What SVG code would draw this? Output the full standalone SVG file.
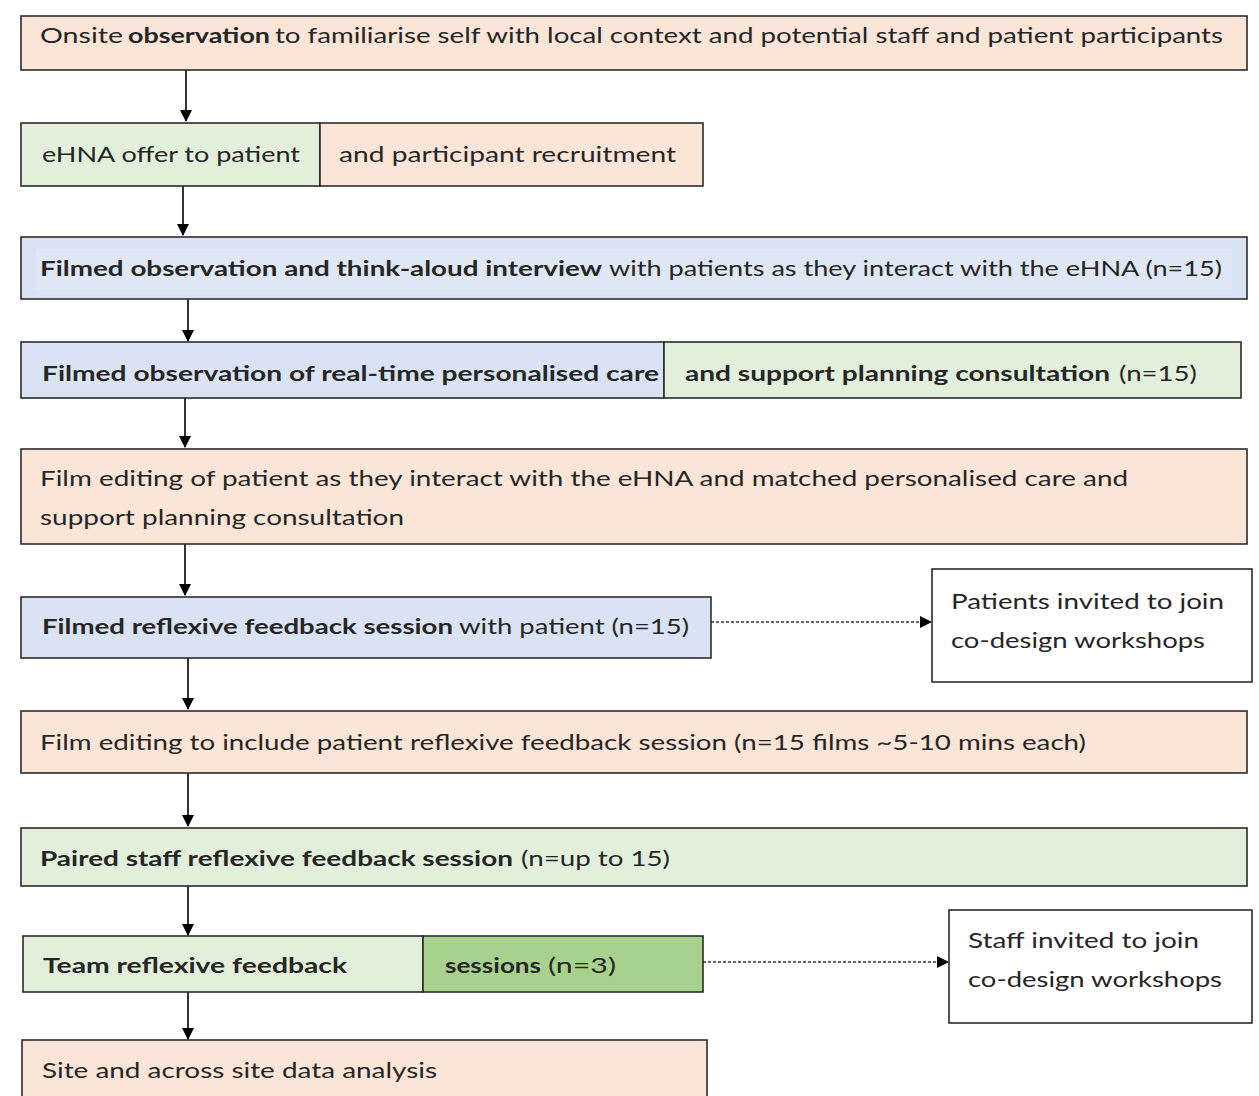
<svg xmlns="http://www.w3.org/2000/svg" width="1259" height="1096" viewBox="0 0 1259 1096">
<style>
.box{stroke:#2b2b2b;stroke-width:1.6}
.pe{fill:#fbe5d6}.gr{fill:#e2efda}.bl{fill:#dae3f3}.dg{fill:#a9d18e}.wh{fill:#ffffff}
text{font-family:Lato,"Open Sans",sans-serif;font-size:21.5px;fill:#262626}
.b{font-weight:bold}
.ln{stroke:#000;stroke-width:1.6;fill:none}
.dt{stroke:#333;stroke-width:1.5;stroke-dasharray:3 2;fill:none}
</style>
<defs>
<marker id="ah" markerWidth="12" markerHeight="12" refX="11" refY="6" orient="auto" markerUnits="userSpaceOnUse">
<path d="M0,0 L12,6 L0,12 Z" fill="#000"/>
</marker>
</defs>
<rect width="1259" height="1096" fill="#fff"/>
<g id="connectors">
<line class="ln" x1="186" y1="70" x2="186" y2="121" marker-end="url(#ah)"/>
<line class="ln" x1="183" y1="186" x2="183" y2="235" marker-end="url(#ah)"/>
<line class="ln" x1="188" y1="299" x2="188" y2="341" marker-end="url(#ah)"/>
<line class="ln" x1="185" y1="398" x2="185" y2="447" marker-end="url(#ah)"/>
<line class="ln" x1="185" y1="544" x2="185" y2="595" marker-end="url(#ah)"/>
<line class="ln" x1="188" y1="658" x2="188" y2="709" marker-end="url(#ah)"/>
<line class="ln" x1="188" y1="773" x2="188" y2="826" marker-end="url(#ah)"/>
<line class="ln" x1="188" y1="886" x2="188" y2="935" marker-end="url(#ah)"/>
<line class="ln" x1="188" y1="992" x2="188" y2="1039" marker-end="url(#ah)"/>
<line class="dt" x1="711" y1="622" x2="931" y2="622" marker-end="url(#ah)"/>
<line class="dt" x1="703" y1="962" x2="948" y2="962" marker-end="url(#ah)"/>
</g>
<g id="n1">
<rect class="box pe" x="21" y="16" width="1226" height="54"/>
<text x="40" y="43" textLength="83" lengthAdjust="spacingAndGlyphs">Onsite</text>
<text class="b" x="128" y="43" textLength="142" lengthAdjust="spacingAndGlyphs">observation</text>
<text x="275" y="43" textLength="948" lengthAdjust="spacingAndGlyphs">to familiarise self with local context and potential staff and patient participants</text>
</g>
<g id="n2">
<rect class="box gr" x="21" y="123" width="299" height="63"/>
<rect class="box pe" x="320" y="123" width="383" height="63"/>
<text x="42" y="162" textLength="258" lengthAdjust="spacingAndGlyphs">eHNA offer to patient</text>
<text x="339" y="162" textLength="337" lengthAdjust="spacingAndGlyphs">and participant recruitment</text>
</g>
<g id="n3">
<rect class="box bl" x="21" y="237" width="1226" height="62"/>
<rect x="36" y="249" width="1196" height="41" fill="#e0e7f4"/>
<text class="b" x="40" y="276" textLength="562" lengthAdjust="spacingAndGlyphs">Filmed observation and think-aloud interview</text>
<text x="609" y="276" textLength="613" lengthAdjust="spacingAndGlyphs">with patients as they interact with the eHNA (n=15)</text>
</g>
<g id="n4">
<rect class="box bl" x="21" y="342" width="643" height="56"/>
<rect class="box gr" x="664" y="342" width="577" height="56"/>
<text class="b" x="42" y="381" textLength="617" lengthAdjust="spacingAndGlyphs">Filmed observation of real-time personalised care</text>
<text class="b" x="685" y="381" textLength="425" lengthAdjust="spacingAndGlyphs">and support planning consultation</text>
<text x="1119" y="381" textLength="78" lengthAdjust="spacingAndGlyphs">(n=15)</text>
</g>
<g id="n5">
<rect class="box pe" x="21" y="449" width="1226" height="95"/>
<text x="40" y="486" textLength="1088" lengthAdjust="spacingAndGlyphs">Film editing of patient as they interact with the eHNA and matched personalised care and</text>
<text x="40" y="525" textLength="364" lengthAdjust="spacingAndGlyphs">support planning consultation</text>
</g>
<g id="n6">
<rect class="box bl" x="21" y="597" width="690" height="61"/>
<text class="b" x="42" y="634" textLength="411" lengthAdjust="spacingAndGlyphs">Filmed reflexive feedback session</text>
<text x="459" y="634" textLength="230" lengthAdjust="spacingAndGlyphs">with patient (n=15)</text>
</g>
<g id="n6b">
<rect class="box wh" x="932" y="569" width="320" height="113"/>
<text x="951" y="609" textLength="273" lengthAdjust="spacingAndGlyphs">Patients invited to join</text>
<text x="951" y="648" textLength="254" lengthAdjust="spacingAndGlyphs">co-design workshops</text>
</g>
<g id="n7">
<rect class="box pe" x="21" y="711" width="1226" height="62"/>
<text x="40" y="750" textLength="1046" lengthAdjust="spacingAndGlyphs">Film editing to include patient reflexive feedback session (n=15 films ~5-10 mins each)</text>
</g>
<g id="n8">
<rect class="box gr" x="21" y="828" width="1226" height="58"/>
<text class="b" x="40" y="866" textLength="473" lengthAdjust="spacingAndGlyphs">Paired staff reflexive feedback session</text>
<text x="521" y="866" textLength="149" lengthAdjust="spacingAndGlyphs">(n=up to 15)</text>
</g>
<g id="n9">
<rect class="box gr" x="23" y="936" width="400" height="56"/>
<rect class="box dg" x="423" y="936" width="280" height="56"/>
<text class="b" x="43" y="973" textLength="304" lengthAdjust="spacingAndGlyphs">Team reflexive feedback</text>
<text class="b" x="445" y="973" textLength="96" lengthAdjust="spacingAndGlyphs">sessions</text>
<text x="548" y="973" textLength="68" lengthAdjust="spacingAndGlyphs">(n=3)</text>
</g>
<g id="n9b">
<rect class="box wh" x="949" y="910" width="303" height="113"/>
<text x="968" y="948" textLength="231" lengthAdjust="spacingAndGlyphs">Staff invited to join</text>
<text x="968" y="987" textLength="254" lengthAdjust="spacingAndGlyphs">co-design workshops</text>
</g>
<g id="n10">
<rect class="box pe" x="22" y="1040" width="685" height="62"/>
<text x="42" y="1078" textLength="395" lengthAdjust="spacingAndGlyphs">Site and across site data analysis</text>
</g>
</svg>
